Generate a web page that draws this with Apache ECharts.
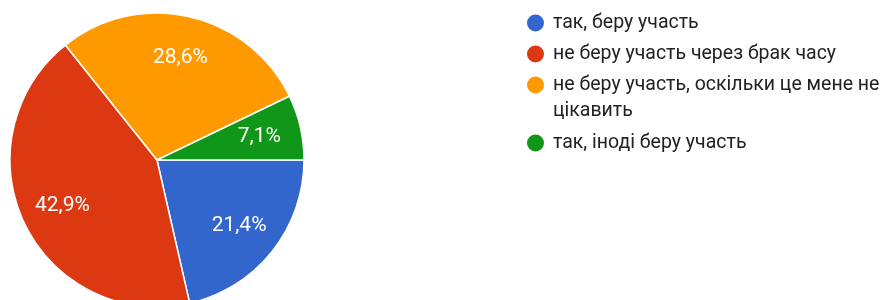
<!DOCTYPE html>
<html>
<head>
<meta charset="utf-8">
<script src="https://cdn.jsdelivr.net/npm/echarts@6/dist/echarts.min.js"></script>
<style>
  html, body { margin: 0; padding: 0; background: #fff; }
  #chart { width: 883px; height: 300px; }
</style>
</head>
<body>
<div id="chart"></div>
<script>
// відповіді та кількість голосів
const answers = [
  'так, беру участь',
  'не беру участь через брак часу',
  'не беру участь, оскільки це мене не цікавить',
  'так, іноді беру участь'
]
const counts = [3, 6, 4, 1]
const colors = ['#3366cc', '#dc3912', '#ff9900', '#109618']

const pieData = answers.map((name, i) => ({ name, value: counts[i] }))
const fontFamily = 'Roboto, Arial, sans-serif'

// кожен пункт легенди окремо, щоб іконка стояла біля першого рядка
const legendTops = [10, 41, 46, 130]
const legends = answers.map((name, i) => ({
  left: 525,
  top: legendTops[i],
  orient: 'vertical',
  padding: 0,
  icon: 'circle',
  itemWidth: 19,
  itemHeight: 19,
  itemGap: 0,
  selectedMode: false,
  data: [name],
  // довгий пункт переноситься; порожній рядок зверху тримає перший рядок біля іконки
  formatter: n => n.indexOf('мене не ') > 0 ? '\n' + n.replace('мене не ', 'мене не\n') : n,
  textStyle: {
    color: '#222',
    fontFamily,
    fontSize: 19.5,
    lineHeight: 26,
    padding: [0, 0, 0, 3]
  }
}))

const chart = echarts.init(document.getElementById('chart'))
chart.setOption({
  animation: false,
  color: colors,
  legend: legends,
  series: [
    {
      type: 'pie',
      center: [157, 160],
      radius: [0, 147],
      startAngle: 0,
      clockwise: true,
      silent: true,
      itemStyle: { borderColor: '#fff', borderWidth: 1.5 },
      label: { show: false },
      labelLine: { show: false },
      data: pieData
    },
    {
      // прозорий шар тільки для підписів (ближче до краю, як у Google Forms)
      type: 'pie',
      center: [157, 160],
      radius: [57, 147],
      startAngle: 0,
      clockwise: true,
      silent: true,
      itemStyle: { color: 'transparent', borderWidth: 0 },
      label: {
        show: true,
        position: 'inside',
        color: '#fff',
        fontFamily,
        fontSize: 21,
        formatter: p => p.percent.toFixed(1).replace('.', ',') + '%'
      },
      labelLine: { show: false },
      data: pieData
    }
  ]
})
</script>
</body>
</html>
